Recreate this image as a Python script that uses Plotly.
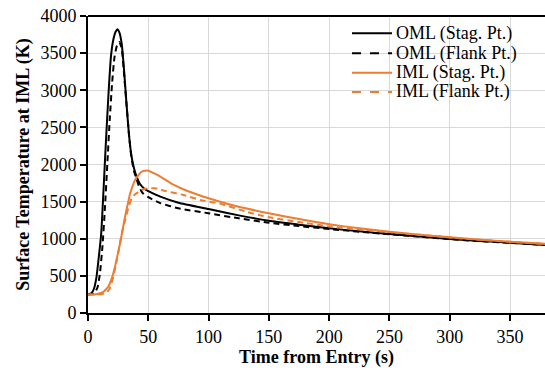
import plotly.graph_objects as go

# OML stagnation point
oml_stag_t = [0, 3, 5, 7, 9, 11, 13, 15, 17, 19, 21, 23, 24.5, 26, 28, 30, 32, 34, 36, 38, 40, 43, 47, 50, 60, 75, 100, 125, 150, 175, 200, 225, 250, 275, 300, 325, 350, 380]
oml_stag_T = [250, 270, 330, 480, 760, 1080, 1700, 2350, 2950, 3450, 3680, 3790, 3820, 3780, 3620, 3250, 2800, 2400, 2120, 1960, 1850, 1740, 1670, 1640, 1567, 1485, 1400, 1315, 1243, 1190, 1140, 1100, 1064, 1030, 997, 970, 947, 915]

# OML flank point
oml_flank_t = [0, 5, 8, 10, 12, 14, 16, 18, 20, 22, 24, 26, 28, 30, 32, 34, 36, 38, 40, 42, 45, 50, 60, 75, 100, 125, 150, 175, 200, 225, 250, 275, 300, 325, 350, 380]
oml_flank_T = [250, 260, 350, 550, 900, 1400, 2000, 2600, 3100, 3450, 3600, 3650, 3560, 3200, 2800, 2400, 2100, 1920, 1820, 1720, 1620, 1560, 1480, 1410, 1343, 1275, 1216, 1170, 1131, 1095, 1060, 1028, 995, 968, 945, 915]

# IML stagnation point
iml_stag_t = [0, 5, 10, 13, 15, 17, 20, 22.4, 24.5, 26.6, 28.7, 30.7, 33, 35, 37, 39, 42, 44.6, 47, 50, 55, 60, 70, 80, 90, 100, 125, 150, 175, 200, 225, 250, 275, 300, 325, 350, 380]
iml_stag_T = [250, 250, 265, 290, 320, 360, 480, 624, 780, 939, 1120, 1297, 1470, 1612, 1710, 1791, 1860, 1903, 1915, 1917, 1880, 1836, 1735, 1660, 1600, 1545, 1430, 1343, 1265, 1195, 1140, 1095, 1055, 1020, 988, 960, 930]

# IML flank point
iml_flank_t = [0, 10, 15, 18, 20, 21, 23, 25, 27, 29.3, 31, 33.5, 36, 39, 42, 44.5, 47, 50, 55.6, 65, 79, 93, 110, 130, 150, 175, 200, 225, 250, 275, 300, 325, 350, 380]
iml_flank_T = [250, 252, 270, 330, 430, 490, 640, 804, 980, 1162, 1260, 1420, 1540, 1600, 1630, 1655, 1670, 1680, 1680, 1640, 1590, 1522, 1470, 1370, 1289, 1225, 1166, 1125, 1090, 1053, 1018, 987, 958, 930]

series_names = ["OML (Stag. Pt.)", "OML (Flank Pt.)", "IML (Stag. Pt.)", "IML (Flank Pt.)"]

x_ticks = [0, 50, 100, 150, 200, 250, 300, 350]
y_ticks = [0, 500, 1000, 1500, 2000, 2500, 3000, 3500, 4000]

ORANGE = "#ED7D31"
FONT = "Times New Roman, Liberation Serif, serif"

fig = go.Figure()
series = [
    (series_names[0], oml_stag_t, oml_stag_T, "black", "solid"),
    (series_names[1], oml_flank_t, oml_flank_T, "black", "6px,4px"),
    (series_names[2], iml_stag_t, iml_stag_T, ORANGE, "solid"),
    (series_names[3], iml_flank_t, iml_flank_T, ORANGE, "6px,4px"),
]

# plot area geometry (pixels) for manual legend placement
L, T_, W, H = 88, 16, 457, 297
def px(x):
    return (x - L) / W
def py(y):
    return (T_ + H - y) / H

shapes = [dict(type="line", xref="paper", yref="paper", x0=0, x1=1, y0=1, y1=1,
               line=dict(color="black", width=2))]
annotations = []
leg_y = [33.3, 53.3, 72.8, 92]
for (name, t, T, c, d), ly in zip(series, leg_y):
    fig.add_trace(go.Scatter(x=t, y=T, mode="lines", name=name, showlegend=False,
                             line=dict(color=c, width=2, dash=d, shape="spline", smoothing=0.5)))
    shapes.append(dict(type="line", xref="paper", yref="paper",
                       x0=px(352), x1=px(392), y0=py(ly), y1=py(ly),
                       line=dict(color=c, width=2, dash="dash" if d != "solid" else "solid")))
    annotations.append(dict(text=name, xref="paper", yref="paper", x=px(394), y=py(ly),
                            xanchor="left", yanchor="middle", showarrow=False,
                            font=dict(family=FONT, size=18, color="black")))

fig.update_layout(
    width=545, height=368,
    margin=dict(l=88, r=0, t=16, b=55),
    paper_bgcolor="white", plot_bgcolor="white",
    font=dict(family=FONT, size=18, color="black"),
    showlegend=False,
    xaxis=dict(range=[0, 379], tickvals=x_ticks, showgrid=True, gridcolor="#d9d9d9", gridwidth=1,
               showline=True, linecolor="black", linewidth=2, ticks="outside", ticklen=6,
               tickcolor="black", tickwidth=2, zeroline=False,
               tickfont=dict(family=FONT, size=18),
               title=dict(text="<b>Time from Entry (s)</b>", font=dict(family=FONT, size=18), standoff=2)),
    yaxis=dict(range=[0, 4000], tickvals=y_ticks, showgrid=True, gridcolor="#d9d9d9", gridwidth=1,
               showline=True, linecolor="black", linewidth=2, ticks="outside", ticklen=6,
               tickcolor="black", tickwidth=2, zeroline=False,
               tickfont=dict(family=FONT, size=18),
               title=dict(text="<b>Surface Temperature at IML (K)</b>", font=dict(family=FONT, size=18), standoff=6)),
    shapes=shapes,
    annotations=annotations,
)

fig.write_html("out.html")
